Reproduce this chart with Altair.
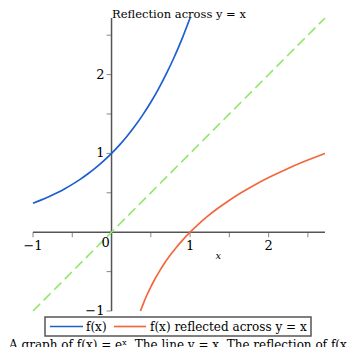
import altair as alt
import pandas as pd

exp_x = [-1.0, -0.9, -0.8, -0.7, -0.6, -0.5, -0.4, -0.3, -0.2, -0.1, 0.0,
         0.1, 0.2, 0.3, 0.4, 0.5, 0.6, 0.7, 0.8, 0.9, 1.0]
exp_y = [0.368, 0.407, 0.449, 0.497, 0.549, 0.607, 0.670, 0.741, 0.819, 0.905, 1.0,
         1.105, 1.221, 1.350, 1.492, 1.649, 1.822, 2.014, 2.226, 2.460, 2.718]
# reflection across y = x
log_x = exp_y
log_y = exp_x
# line y = x
diag_x = [-1.0, 2.718]
diag_y = [-1.0, 2.718]

series_names = ["f(x)", "f(x)  reflected across  y = x"]
series_colors = ["#1c5fd0", "#f2683e"]

x_major = [-1, 1, 2]
x_major_labels = ["\u22121", "1", "2"]
x_minor = [-0.5, 0.5, 1.5, 2.5]
y_major = [-1, 1, 2]
y_major_labels = ["\u22121", "1", "2"]
y_minor = [-0.5, 0.5, 1.5, 2.5]

title_text = "Reflection across y = x"
caption_text = "A graph of f(x) = e\u02e3. The line y = x. The reflection of f(x) shown across y = x is ln(x)."

FONT = "DejaVu Serif"
AX = "#555555"

curves = pd.DataFrame({
    "x": exp_x + log_x,
    "y": exp_y + log_y,
    "s": [series_names[0]] * len(exp_x) + [series_names[1]] * len(log_x),
    "i": list(range(len(exp_x))) + list(range(len(log_x))),
})
diag = pd.DataFrame({"x": diag_x, "y": diag_y})

xs = alt.Scale(domain=[-1, 2.718], nice=False, zero=False)
ys = alt.Scale(domain=[-1, 2.718], nice=False, zero=False)

axes_df = pd.DataFrame({"x": [-1, 0], "x2": [2.718, 0], "y": [0, -1], "y2": [0, 2.718]})
axes = alt.Chart(axes_df).mark_rule(color=AX, strokeWidth=1.5).encode(
    x=alt.X("x:Q", scale=xs, axis=None), x2="x2:Q",
    y=alt.Y("y:Q", scale=ys, axis=None), y2="y2:Q")

xt = pd.DataFrame({"x": x_major + x_minor, "y": [0] * (len(x_major) + len(x_minor))})
xticks = alt.Chart(xt).mark_tick(orient="vertical", size=5, thickness=1, yOffset=2.5, color=AX).encode(
    x=alt.X("x:Q", scale=xs, axis=None), y=alt.Y("y:Q", scale=ys, axis=None))
yt = pd.DataFrame({"y": y_major + y_minor, "x": [0] * (len(y_major) + len(y_minor))})
yticks = alt.Chart(yt).mark_tick(orient="horizontal", size=5, thickness=1, xOffset=-2.5, color=AX).encode(
    x=alt.X("x:Q", scale=xs, axis=None), y=alt.Y("y:Q", scale=ys, axis=None))

xl = pd.DataFrame({"x": x_major, "y": [0] * len(x_major), "t": x_major_labels})
xlabels = alt.Chart(xl).mark_text(font=FONT, fontSize=13, dy=14, color="black").encode(
    x=alt.X("x:Q", scale=xs, axis=None), y=alt.Y("y:Q", scale=ys, axis=None), text="t:N")
zl = pd.DataFrame({"x": [0], "y": [0], "t": ["0"]})
zlabel = alt.Chart(zl).mark_text(font=FONT, fontSize=13, dy=11, dx=-6, color="black").encode(
    x=alt.X("x:Q", scale=xs, axis=None), y=alt.Y("y:Q", scale=ys, axis=None), text="t:N")
yl = pd.DataFrame({"y": y_major, "x": [0] * len(y_major), "t": y_major_labels})
ylabels = alt.Chart(yl).mark_text(font=FONT, fontSize=13, dx=-7, align="right", baseline="middle", color="black").encode(
    x=alt.X("x:Q", scale=xs, axis=None), y=alt.Y("y:Q", scale=ys, axis=None), text="t:N")
xn = pd.DataFrame({"x": [1.36], "y": [0], "t": ["x"]})
xname = alt.Chart(xn).mark_text(font=FONT, fontSize=10, fontStyle="italic", dy=24, color="black").encode(
    x=alt.X("x:Q", scale=xs, axis=None), y=alt.Y("y:Q", scale=ys, axis=None), text="t:N")

diag_line = alt.Chart(diag).mark_line(color="#8ee86a", strokeWidth=1.6, strokeDash=[10, 5]).encode(
    x=alt.X("x:Q", scale=xs, axis=None), y=alt.Y("y:Q", scale=ys, axis=None))

curve_lines = alt.Chart(curves).mark_line(strokeWidth=1.7, interpolate="monotone").encode(
    x=alt.X("x:Q", scale=xs, axis=None),
    y=alt.Y("y:Q", scale=ys, axis=None),
    order="i:Q",
    color=alt.Color("s:N", scale=alt.Scale(domain=series_names, range=series_colors), legend=None),
)

# manual legend (layout in pixels)
one = pd.DataFrame({"k": [0]})
leg_box = alt.Chart(one).mark_rect(fill="white", stroke=AX, strokeWidth=1.5).encode(
    x=alt.value(12), x2=alt.value(278), y=alt.value(299), y2=alt.value(318))
leg_s1 = alt.Chart(one).mark_rule(strokeWidth=1.7, color=series_colors[0]).encode(
    x=alt.value(17), x2=alt.value(50), y=alt.value(308.5))
leg_s2 = alt.Chart(one).mark_rule(strokeWidth=1.7, color=series_colors[1]).encode(
    x=alt.value(81), x2=alt.value(113), y=alt.value(308.5))
leg_t1 = alt.Chart(pd.DataFrame({"t": [series_names[0]]})).mark_text(
    font=FONT, fontSize=12, color="black", align="left", baseline="alphabetic").encode(
    x=alt.value(53), y=alt.value(313), text="t:N")
leg_t2 = alt.Chart(pd.DataFrame({"t": [series_names[1]]})).mark_text(
    font=FONT, fontSize=12, color="black", align="left", baseline="alphabetic").encode(
    x=alt.value(117), y=alt.value(313), text="t:N")

title = alt.Chart(pd.DataFrame({"t": [title_text]})).mark_text(
    font=FONT, fontSize=11.5, color="black", baseline="alphabetic", align="center").encode(
    x=alt.value(146), y=alt.value(0), text="t:N")
caption = alt.Chart(pd.DataFrame({"t": [caption_text]})).mark_text(
    font=FONT, fontSize=12, color="black", baseline="alphabetic", align="left").encode(
    x=alt.value(-24), y=alt.value(331), text="t:N")

chart = alt.layer(axes, xticks, yticks, diag_line, curve_lines, xlabels, zlabel, ylabels, xname,
                  leg_box, leg_s1, leg_s2, leg_t1, leg_t2, title, caption).properties(
    width=292, height=293,
    autosize=alt.AutoSizeParams(type="none"),
    padding={"left": 25, "top": 10, "right": 22, "bottom": 36},
).configure_view(stroke=None)

chart.save("out.html", embed_options={"renderer": "svg", "actions": False})
